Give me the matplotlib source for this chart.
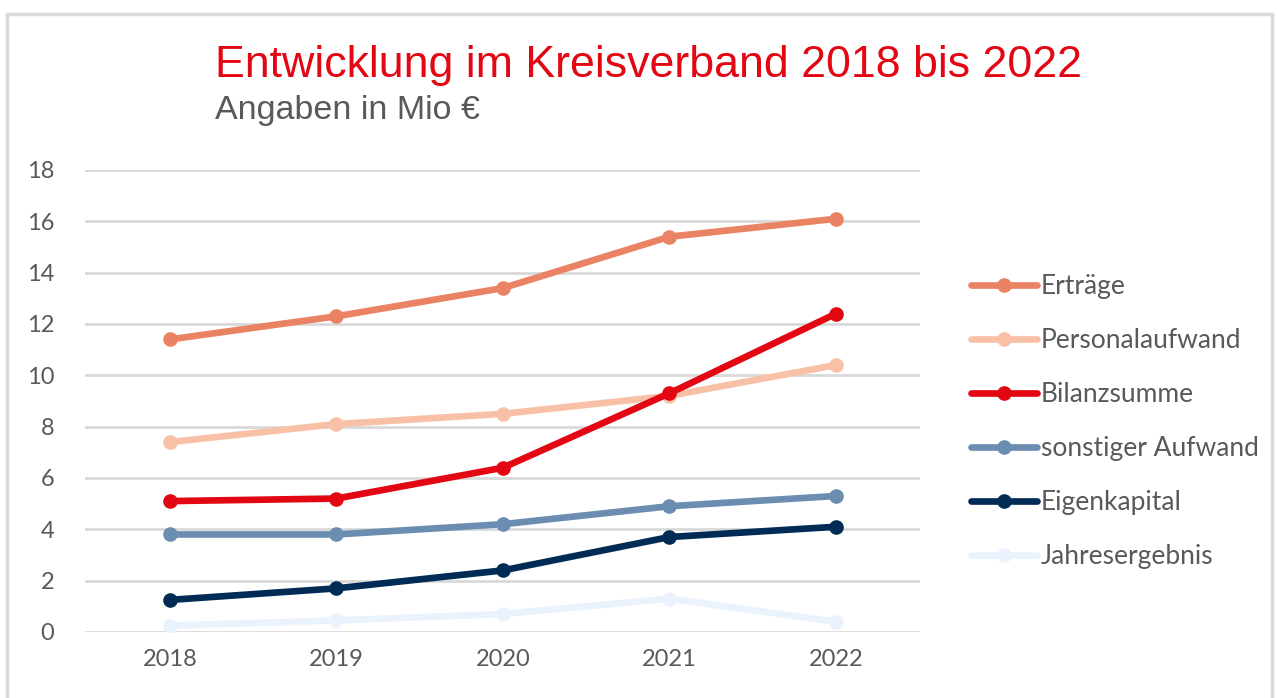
import matplotlib
matplotlib.use("Agg")
import matplotlib.pyplot as plt
from matplotlib.patches import Rectangle

years = ["2018", "2019", "2020", "2021", "2022"]
ertraege = [11.4, 12.3, 13.4, 15.4, 16.1]
personalaufwand = [7.4, 8.1, 8.5, 9.2, 10.4]
bilanzsumme = [5.1, 5.2, 6.4, 9.3, 12.4]
sonstiger_aufwand = [3.8, 3.8, 4.2, 4.9, 5.3]
eigenkapital = [1.25, 1.7, 2.4, 3.7, 4.1]
jahresergebnis = [0.25, 0.45, 0.7, 1.3, 0.4]

series_names = ["Erträge", "Personalaufwand", "Bilanzsumme",
                "sonstiger Aufwand", "Eigenkapital", "Jahresergebnis"]
series_values = [ertraege, personalaufwand, bilanzsumme,
                 sonstiger_aufwand, eigenkapital, jahresergebnis]
colors = ["#EA8363", "#F9C0A8", "#E30613", "#6B8DB1", "#002B55", "#EAF3FD"]
yticks = [0, 2, 4, 6, 8, 10, 12, 14, 16, 18]

FONT = "Lato"

fig = plt.figure(figsize=(12.79, 6.98), dpi=100)
fig.patch.set_facecolor("white")
fig.patches.append(Rectangle((7/1279, -0.01), 1265/1279, 1 - 14/698 + 0.01,
                             transform=fig.transFigure, fill=False,
                             edgecolor="#D9D9D9", linewidth=2.5))

ax = fig.add_axes([85/1279, 1 - 632/698, 835/1279, 462/698])
x = list(range(len(years)))
order = [5, 4, 3, 1, 0, 2]
handles = {}
for i in order:
    h, = ax.plot(x, series_values[i], color=colors[i], lw=4.8, marker="o",
                 markersize=9.5, solid_capstyle="round", zorder=3 + i * 0.01)
    handles[i] = h

ax.set_ylim(0, 18)
ax.set_xlim(-0.51, 4.505)
ax.set_yticks(yticks)
ax.set_xticks(x)
ax.set_xticklabels(years)
ax.grid(axis="y", color="#D9D9D9", lw=2)
ax.set_axisbelow(True)
for s in ax.spines.values():
    s.set_visible(False)
ax.tick_params(length=0, labelsize=17, colors="#595959", pad=12)
ax.tick_params(axis="y", pad=22)
for lab in ax.get_xticklabels() + ax.get_yticklabels():
    lab.set_fontfamily(FONT)
    lab.set_color("#595959")

leg = fig.legend([handles[i] for i in range(6)], series_names,
                 loc="upper left", bbox_to_anchor=(947/1279, 1 - 250/698),
                 frameon=False, handlelength=2.5, handletextpad=0.15,
                 labelspacing=1.1, prop={"family": FONT, "size": 19},
                 labelcolor="#595959")

fig.text(215/1279, 1 - 65/698, "Entwicklung im Kreisverband 2018 bis 2022",
         color="#E30613", fontsize=32.2, family="Liberation Sans", va="center")
fig.text(215/1279, 1 - 111/698, "Angaben in Mio €",
         color="#595959", fontsize=24.5, family="Liberation Sans", va="center")

fig.savefig("out.png", dpi=100)
